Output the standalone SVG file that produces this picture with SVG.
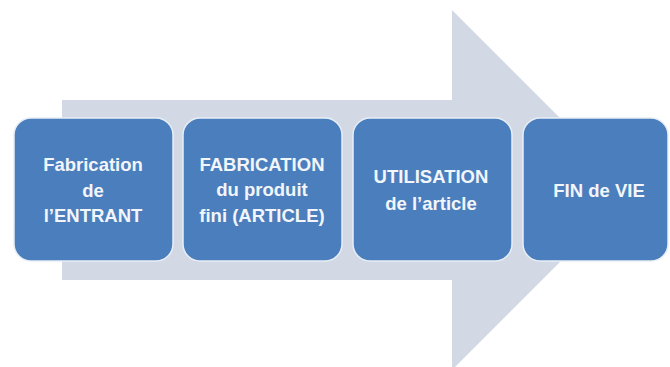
<svg xmlns="http://www.w3.org/2000/svg" width="670" height="367" viewBox="0 0 670 367">
<style>
.box{fill:#4B7EBC;stroke:#E8EEF6;stroke-width:1.5}
.lbl{font-family:"Liberation Sans",Arial,sans-serif;font-weight:bold;font-size:18.5px;fill:#F2F5FA;text-anchor:middle}
</style>
<rect width="670" height="367" fill="#FFFFFF"/>
<g id="arrow">
<polygon points="62,100 452,100 452,10 632,190 452,370 452,280 62,280" fill="#D2D9E5"/>
</g>
<g id="connectors"></g>
<g id="n1">
<rect class="box" x="14" y="118" width="159" height="143" rx="17"/>
<text class="lbl" x="93" y="171">Fabrication</text>
<text class="lbl" x="93" y="197">de</text>
<text class="lbl" x="93" y="222">l’ENTRANT</text>
</g>
<g id="n2">
<rect class="box" x="183" y="118" width="159" height="143" rx="17"/>
<text class="lbl" x="262" y="171">FABRICATION</text>
<text class="lbl" x="262" y="196">du produit</text>
<text class="lbl" x="262" y="222">fini (ARTICLE)</text>
</g>
<g id="n3">
<rect class="box" x="353" y="118" width="159" height="143" rx="17"/>
<text class="lbl" x="431" y="183">UTILISATION</text>
<text class="lbl" x="431" y="210">de l’article</text>
</g>
<g id="n4">
<rect class="box" x="523" y="118" width="145" height="143" rx="17"/>
<text class="lbl" x="599" y="197">FIN de VIE</text>
</g>
</svg>
